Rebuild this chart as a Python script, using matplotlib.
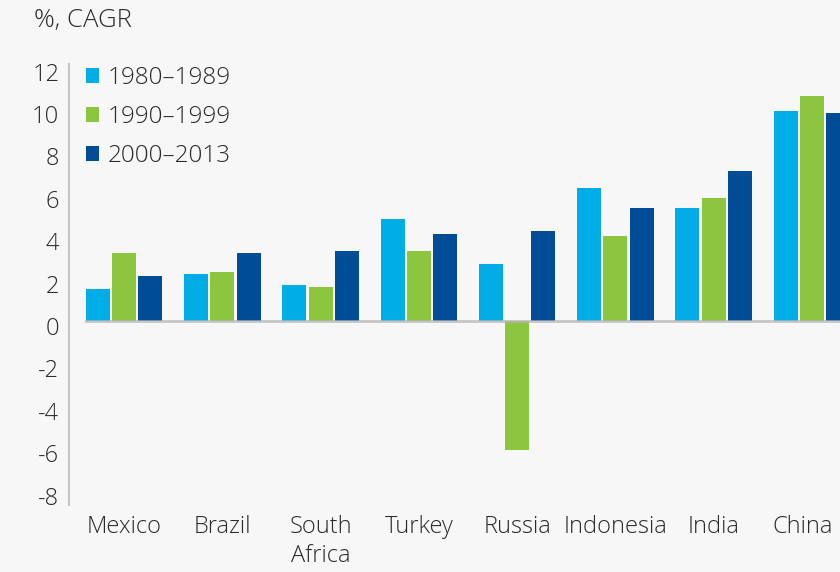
import matplotlib
matplotlib.use("Agg")
import matplotlib.pyplot as plt
import numpy as np
from matplotlib.transforms import ScaledTranslation

plt.rcParams['font.family'] = ['Open Sans', 'DejaVu Sans']
plt.rcParams['font.weight'] = 'light'

categories = ["Mexico", "Brazil", "South\nAfrica", "Turkey", "Russia", "Indonesia", "India", "China"]
series_names = ["1980\u20131989", "1990\u20131999", "2000\u20132013"]
s1980 = [1.5, 2.2, 1.7, 4.8, 2.7, 6.25, 5.35, 9.9]
s1990 = [3.2, 2.3, 1.6, 3.3, -6.1, 4.0, 5.8, 10.6]
s2000 = [2.1, 3.2, 3.3, 4.1, 4.25, 5.35, 7.05, 9.8]
yticks = [12, 10, 8, 6, 4, 2, 0, -2, -4, -6, -8]
ytick_labels = ["12", "10", "8", "6", "4", "2", "0", "-2", "-4", "-6", "-8"]
colors = ["#00ADE7", "#8CC63F", "#004C97"]

bg = "#f7f7f7"
txt = "#2b2b2b"
fs = 17

fig = plt.figure(figsize=(8.4, 5.72), dpi=100, facecolor=bg)
ax = fig.add_axes([69/840, 67/572, 1 - 69/840, (505-64)/572])
ax.set_facecolor(bg)

x = np.arange(len(categories))
step = 0.2675
width = 0.244
handles = []
for i, (vals, c, name) in enumerate(zip([s1980, s1990, s2000], colors, series_names)):
    b = ax.bar(x + (i - 1) * step, vals, width=width, color=c, label=name, zorder=2)
    handles.append(b)

xlim = (-0.5596, 7.285)
ax.set_xlim(*xlim)
ax.set_ylim(-8.68, 12.12)

x0 = -step - width / 2
ax.axhline(0, xmin=(x0 - xlim[0]) / (xlim[1] - xlim[0]), xmax=1, color="#b5b5b5",
           alpha=0.75, lw=2, zorder=3)

for s in ["top", "right", "bottom"]:
    ax.spines[s].set_visible(False)
ax.spines["left"].set_color("#c4c4c4")
ax.spines["left"].set_linewidth(1.5)

ax.set_yticks(yticks)
ax.set_yticklabels(ytick_labels)
ax.set_xticks(x)
ax.set_xticklabels(categories, linespacing=1.3)
ax.tick_params(axis="both", length=0, labelsize=fs, labelcolor=txt)
ax.tick_params(axis="y", pad=7)
ax.tick_params(axis="x", pad=7)
off = ScaledTranslation(0, -5/100, fig.dpi_scale_trans)
for lab in ax.get_yticklabels():
    lab.set_transform(lab.get_transform() + off)
xlabs = ax.get_xticklabels()
xlabs[-1].set_transform(xlabs[-1].get_transform() + ScaledTranslation(-9/100, 0, fig.dpi_scale_trans))

fig.text(34/840, 1 - 21/572, "%, CAGR", fontsize=18.5, color=txt, va="center", ha="left")

leg = ax.legend(handles=handles, loc="upper left", bbox_to_anchor=(17/771, 0.995),
                frameon=False, fontsize=fs + 0.5, handlelength=0.55, handleheight=0.55,
                handletextpad=0.35, labelspacing=0.62, borderaxespad=0, borderpad=0)
for t in leg.get_texts():
    t.set_color(txt)

fig.savefig("out.png", dpi=100, facecolor=bg)
